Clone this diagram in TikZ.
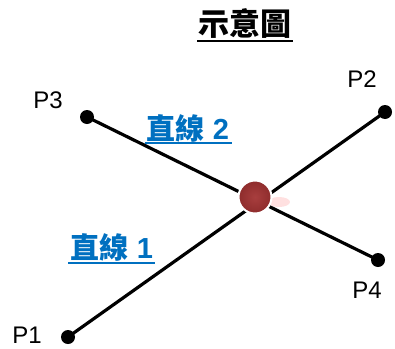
\documentclass[tikz,border=0pt]{standalone}
\usepackage{fontspec}
\setmainfont{Liberation Sans}
\newfontfamily\cjk{Noto Sans CJK TC}
\usetikzlibrary{calc,shadings}
\definecolor{lblue}{HTML}{0070C0}
\definecolor{ballc}{HTML}{A83E3E}
\definecolor{balld}{HTML}{8E2C2C}
\begin{document}
\begin{tikzpicture}[x=1pt,y=-1pt,
  dotp/.style={circle,fill=black,inner sep=0pt,minimum size=14pt},
  plabel/.style={font=\fontsize{24}{28}\selectfont,inner sep=0pt},
  seg/.style={line width=3.2pt},
  lnlabel/.style={font=\bfseries\fontsize{29}{32}\selectfont,text=lblue,inner sep=0pt,outer sep=0pt},
  uline/.style={line width=2.2pt}]
\useasboundingbox (0,0) rectangle (395,348);
\node[dotp] (p1) at (68,337) {};
\node[dotp] (p2) at (385,112) {};
\node[dotp] (p3) at (87,117) {};
\node[dotp] (p4) at (378,260) {};
\draw[seg] (p1.center) -- (p2.center);
\draw[seg] (p3.center) -- (p4.center);
\node[plabel] (l1) at (27,335) {P1};
\node[plabel] (l2) at (362,79) {P2};
\node[plabel] (l3) at (48,100) {P3};
\node[plabel] (l4) at (367,290) {P4};
\fill[pink!80!red, opacity=0.3] (279,202) ellipse [x radius=11pt, y radius=5pt];
\node[circle,minimum size=33pt,inner sep=0pt,draw=white,line width=2pt,
  inner color=ballc,outer color=balld] (c) at (255,197) {};
\node[lnlabel] (t2) at (188,128) {{\cjk 直線} 2};
\draw[lblue,uline] (145,143) -- (232,143);
\node[lnlabel] (t1) at (112,247) {{\cjk 直線} 1};
\draw[lblue,uline] (68,263) -- (155,263);
\node[font=\cjk\bfseries\fontsize{31}{34}\selectfont,inner sep=0pt] (title) at (245,24) {示意圖};
\draw[uline] (197,41) -- (293,41);
\end{tikzpicture}
\end{document}
